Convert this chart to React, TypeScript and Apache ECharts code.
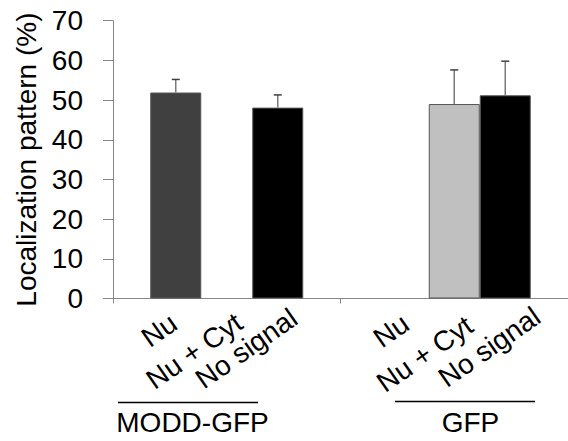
import React, { useEffect, useRef } from 'react';
import * as echarts from 'echarts';

const groups = ['MODD-GFP', 'GFP'];
const patterns = ['Nu', 'Nu + Cyt', 'No signal'];
const nuValues = [51.9, 0];
const nuCytValues = [0, 49.0];
const noSignalValues = [48.1, 51.2];
const nuErrors = [3.3, 0];
const nuCytErrors = [0, 8.6];
const noSignalErrors = [3.2, 8.6];
const yMin = 0;
const yMax = 70;
const yStep = 10;
const yAxisTitle = 'Localization pattern (%)';

// layout / style constants
const FONT = "'Liberation Sans', Arial, Helvetica, sans-serif";
const FONT_SIZE = 28;
const LABEL_FONT_SIZE = 28;
const BAR_W = 51;
const COLORS = ['#404040', '#c0c0c0', '#000000'];
const AXIS_COLOR = '#868686';
const LABEL_ROT = (35 * Math.PI) / 180;
// offsets (px) of each rotated label's anchor from its bar slot centre / axis line
const LABEL_OFFSETS = [
  [[-2, 21.5], [12.5, 21], [16.5, 16.5]],
  [[2.5, 22], [15.5, 24], [32, 15]],
];

export default function App() {
  const ref = useRef<HTMLDivElement>(null);
  useEffect(() => {
    const chart = echarts.init(ref.current!, null, { renderer: 'svg' });
    const values = [nuValues, nuCytValues, noSignalValues];
    const errors = [nuErrors, nuCytErrors, noSignalErrors];
    const errData: number[][] = [];
    values.forEach((vals, s) =>
      vals.forEach((v, g) => {
        if (errors[s][g] > 0) errData.push([g, v + errors[s][g], s, v]);
      })
    );
    const labelData: number[][] = [];
    groups.forEach((_, g) => patterns.forEach((_, s) => labelData.push([g, 0, s])));

    const barSeries = patterns.map((name, s) => ({
      type: 'bar',
      name,
      data: values[s].map((v) => (v > 0 ? v : '-')),
      barWidth: BAR_W,
      barGap: '0%',
      itemStyle: { color: COLORS[s], borderColor: '#555555', borderWidth: 1 },
      z: 2,
    }));

    chart.setOption({
      animation: false,
      grid: { left: 113, top: 20.7, width: 464, bottom: 142.5, containLabel: false },
      xAxis: {
        type: 'category',
        data: groups,
        axisLine: { lineStyle: { color: AXIS_COLOR, width: 1 } },
        axisTick: { show: true, length: 5, lineStyle: { color: AXIS_COLOR } },
        axisLabel: { show: false },
        splitLine: { show: false },
      },
      yAxis: {
        type: 'value',
        min: yMin,
        max: yMax,
        interval: yStep,
        name: yAxisTitle,
        nameLocation: 'middle',
        nameGap: 72,
        nameTextStyle: { fontFamily: FONT, fontSize: FONT_SIZE, color: '#000' },
        axisLine: { show: true, lineStyle: { color: AXIS_COLOR, width: 1 } },
        axisTick: { show: true, length: 10, lineStyle: { color: AXIS_COLOR } },
        axisLabel: { margin: 30, fontFamily: FONT, fontSize: FONT_SIZE, color: '#000' },
        splitLine: { show: false },
      },
      series: [
        ...barSeries,
        {
          type: 'custom',
          name: 'error',
          data: errData,
          encode: { x: 0, y: 1 },
          z: 3,
          clip: false,
          renderItem: (params: any, api: any) => {
            const g = api.value(0);
            const top = api.value(1);
            const s = api.value(2);
            const base = api.value(3);
            const p1 = api.coord([g, base]);
            const p2 = api.coord([g, top]);
            const x = p1[0] + (s - 1) * BAR_W;
            return {
              type: 'group',
              children: [
                { type: 'line', shape: { x1: x, y1: p1[1], x2: x, y2: p2[1] }, style: { stroke: '#7a7a7a', lineWidth: 1.5 } },
                { type: 'line', shape: { x1: x - 4, y1: p2[1], x2: x + 4, y2: p2[1] }, style: { stroke: '#404040', lineWidth: 1.5 } },
              ],
            };
          },
        },
        {
          type: 'custom',
          name: 'labels',
          data: labelData,
          encode: { x: 0, y: 1 },
          z: 3,
          clip: false,
          renderItem: (params: any, api: any) => {
            const g = api.value(0);
            const s = api.value(2);
            const p = api.coord([g, 0]);
            const off = LABEL_OFFSETS[g][s];
            return {
              type: 'text',
              x: p[0] + (s - 1) * BAR_W + off[0],
              y: p[1] + off[1],
              rotation: LABEL_ROT,
              style: {
                text: patterns[s],
                fontFamily: FONT,
                fontSize: LABEL_FONT_SIZE,
                fill: '#000',
                align: 'right',
                verticalAlign: 'middle',
              },
            };
          },
        },
      ],
      graphic: [
        { type: 'line', shape: { x1: 118, y1: 402.5, x2: 258, y2: 402.5 }, style: { stroke: '#000', lineWidth: 1.5 } },
        { type: 'line', shape: { x1: 395, y1: 401.5, x2: 535, y2: 401.5 }, style: { stroke: '#000', lineWidth: 1.5 } },
        { type: 'text', x: 192.5, y: 422.5, style: { text: groups[0], fontFamily: FONT, fontSize: FONT_SIZE, fill: '#000', align: 'center', verticalAlign: 'middle' } },
        { type: 'text', x: 470.5, y: 422.5, style: { text: groups[1], fontFamily: FONT, fontSize: FONT_SIZE, fill: '#000', align: 'center', verticalAlign: 'middle' } },
      ],
    });
    return () => chart.dispose();
  }, []);
  return <div ref={ref} style={{ position: 'fixed', left: 0, top: 0, width: 568, height: 441, background: '#fff' }} />;
}
